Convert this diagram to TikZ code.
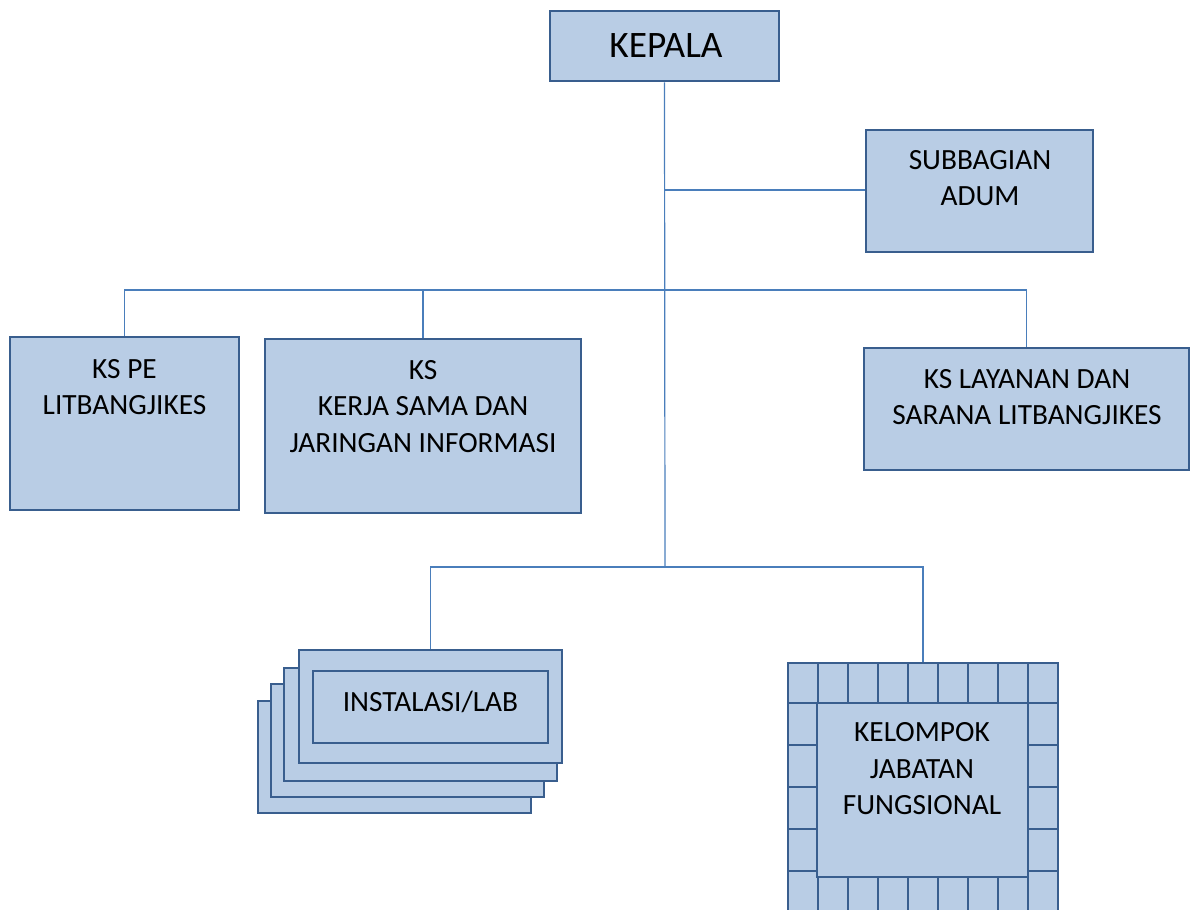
\documentclass[tikz,border=0pt]{standalone}
\usepackage{fontspec}
\setmainfont{Carlito}
\usepackage{xcolor}
\usepackage{tikz}
\usetikzlibrary{positioning, fit, calc}
\definecolor{boxfill}{HTML}{B9CDE5}
\definecolor{boxline}{HTML}{395E8E}
\definecolor{linkline}{HTML}{4A7EBB}
\newcommand{\unitfont}{\fontsize{22}{27.4}\selectfont}
\newcommand{\headfont}{\fontsize{28}{34}\selectfont}

\begin{document}
\begin{tikzpicture}[x=0.75pt, y=-0.75pt,
  unit/.style={rectangle, draw=boxline, fill=boxfill, line width=2.2pt, inner sep=0pt},
  cell/.style={draw=boxline, fill=boxfill, line width=2.2pt},
  caption/.style={font=\unitfont, align=center, inner sep=0pt},
  link/.style={draw=linkline, line width=0.9pt}]
  \clip (0,0) rectangle (1190,910);

  % top
  \node [unit, fit={(550,11) (779,81)}] (kepala) {};
  \node [caption, font=\headfont] (kepala-t) at (666,45.5) {KEPALA};
  \node [unit, fit={(866,130) (1093,252)}] (adum) {};
  \node [caption] (adum-t) at (980,178) {SUBBAGIAN\\ADUM};

  % first level
  \node [unit, fit={(10,337) (239,510)}] (kspe) {};
  \node [caption] (kspe-t) at (124.5,387) {KS PE\\LITBANGJIKES};
  \node [unit, fit={(265,339) (581,513)}] (kskerja) {};
  \node [caption] (kskerja-t) at (423,406.5) {KS\\KERJA SAMA DAN\\JARINGAN INFORMASI};
  \node [unit, fit={(864,348) (1189,470)}] (kslayanan) {};
  \node [caption] (kslayanan-t) at (1027,397) {KS LAYANAN DAN\\SARANA LITBANGJIKES};

  % instalasi stack
  \node [unit, fit={(258,701) (531,813)}] (lab3) {};
  \node [unit, fit={(271,684) (544,797)}] (lab2) {};
  \node [unit, fit={(284,668) (557,781)}] (lab1) {};
  \node [unit, fit={(299,650) (562,763)}] (lab) {};
  \node [unit, fit={(313,671) (548,743)}] (labin) {};
  \node [caption] (lab-t) at (430.5,702) {INSTALASI/LAB};

  % jabatan fungsional frame
  \node [unit, fit={(788,663) (1058,911)}] (fungsional) {};
  \foreach \i in {0,...,8} {
    \draw [cell] (788+30*\i,663) rectangle ++(30,40);
    \draw [cell] (788+30*\i,871) rectangle ++(30,40);
  }
  \foreach \j in {0,...,3} {
    \draw [cell] (788,703+42*\j) rectangle ++(30,42);
    \draw [cell] (1028,703+42*\j) rectangle ++(30,42);
  }
  \node [unit, fit={(817,703) (1028,877)}] (fungsionalin) {};
  \node [caption] (fungsional-t) at (922,769) {KELOMPOK\\JABATAN\\FUNGSIONAL};

  % connectors
  \coordinate (adumjoin) at (665,190);
  \coordinate (bus1) at (665,290);
  \coordinate (bus2) at (665,567);
  \draw [link] (kepala.south) -- (bus2);
  \draw [link] (adumjoin) -- (adumjoin -| adum.west);
  \draw [link] (kspe.north) -- (kspe.north |- bus1) -- (kslayanan.north |- bus1) -- (kslayanan.north);
  \draw [link] (kskerja.north) -- (kskerja.north |- bus1);
  \draw [link] (lab.north) -- (lab.north |- bus2) -- (fungsional.north |- bus2) -- (fungsional.north);
\end{tikzpicture}
\end{document}
